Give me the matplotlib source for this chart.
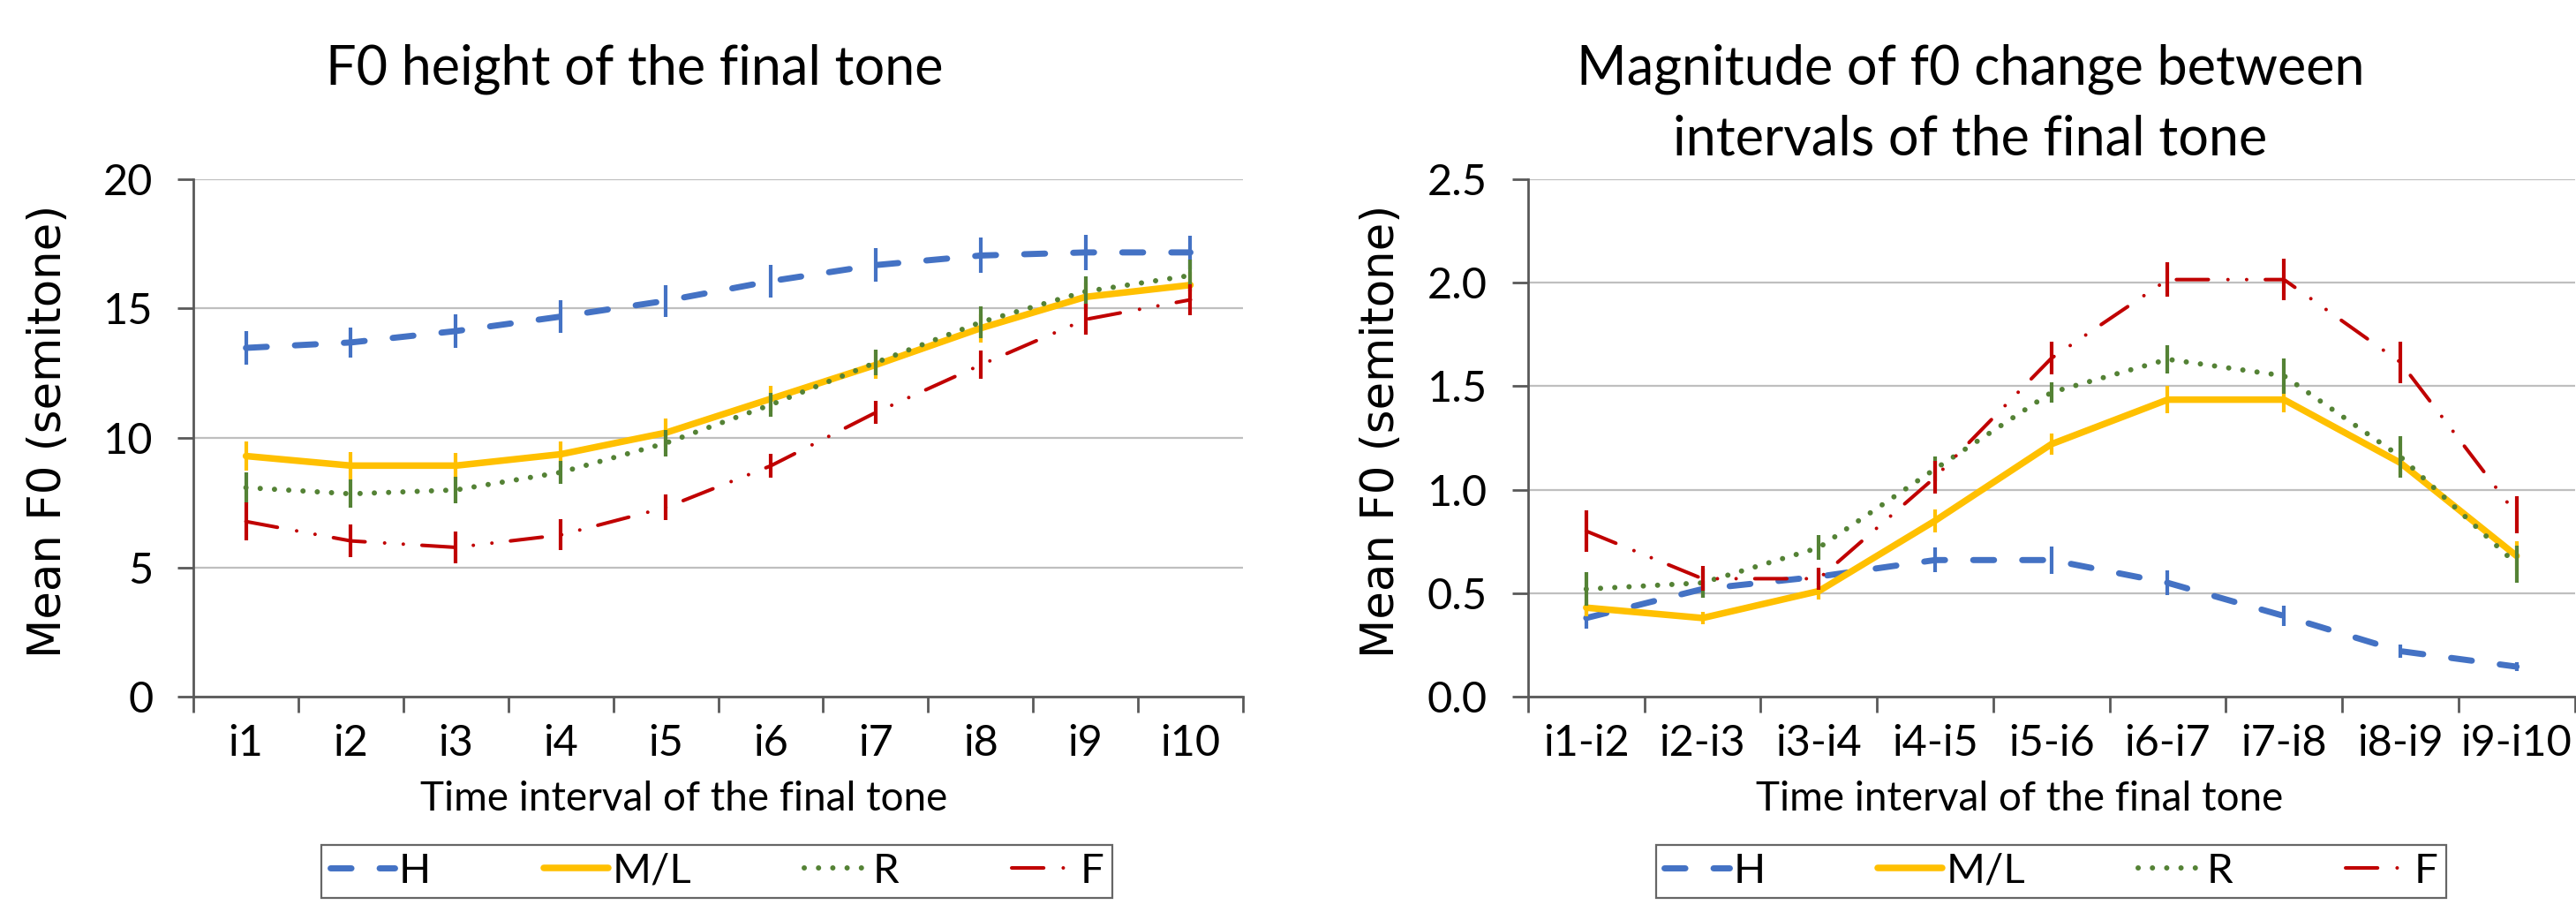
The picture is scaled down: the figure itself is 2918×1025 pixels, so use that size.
import matplotlib.pyplot as plt
import numpy as np
from matplotlib.lines import Line2D

plt.rcParams['font.family'] = ['Lato', 'DejaVu Sans']

# data
labels_left = ['i1', 'i2', 'i3', 'i4', 'i5', 'i6', 'i7', 'i8', 'i9', 'i10']
labels_right = ['i1-i2', 'i2-i3', 'i3-i4', 'i4-i5', 'i5-i6', 'i6-i7', 'i7-i8', 'i8-i9', 'i9-i10']
series_names = ['H', 'M/L', 'R', 'F']

h_left = [13.48, 13.69, 14.13, 14.69, 15.30, 16.06, 16.68, 17.05, 17.17, 17.17]
ml_left = [9.30, 8.93, 8.93, 9.37, 10.20, 11.51, 12.82, 14.24, 15.45, 15.91]
r_left = [8.08, 7.84, 7.99, 8.67, 9.80, 11.28, 12.91, 14.47, 15.66, 16.28]
f_left = [6.77, 6.02, 5.77, 6.25, 7.31, 8.92, 10.98, 12.82, 14.58, 15.34]

h_left_err = [0.64, 0.59, 0.65, 0.63, 0.62, 0.64, 0.64, 0.68, 0.69, 0.65]
ml_left_err = [0.55, 0.54, 0.50, 0.50, 0.55, 0.50, 0.55, 0.55, 0.55, 0.50]
r_left_err = [0.60, 0.55, 0.50, 0.45, 0.50, 0.47, 0.50, 0.60, 0.60, 0.60]
f_left_err = [0.73, 0.63, 0.60, 0.60, 0.50, 0.45, 0.45, 0.55, 0.60, 0.60]

h_right = [0.38, 0.52, 0.58, 0.66, 0.66, 0.55, 0.39, 0.22, 0.145]
ml_right = [0.43, 0.38, 0.51, 0.85, 1.22, 1.435, 1.435, 1.13, 0.68]
r_right = [0.52, 0.55, 0.72, 1.10, 1.47, 1.63, 1.55, 1.16, 0.64]
f_right = [0.80, 0.57, 0.57, 1.06, 1.635, 2.015, 2.015, 1.616, 0.88]

h_right_err = [0.05, 0.04, 0.04, 0.06, 0.065, 0.06, 0.05, 0.03, 0.02]
ml_right_err = [0.04, 0.03, 0.04, 0.055, 0.05, 0.065, 0.06, 0.06, 0.07]
r_right_err = [0.08, 0.07, 0.06, 0.06, 0.05, 0.07, 0.085, 0.10, 0.09]
f_right_err = [0.10, 0.06, 0.055, 0.08, 0.08, 0.083, 0.10, 0.10, 0.09]

colors = ['#4472C4', '#FFC000', '#548235', '#C00000']
widths = [5.0, 5.4, 4.3, 2.9]
styles = [(0, (3.4, 4.6)), 'solid', (0, (0.01, 2.7)), (0, (9, 5.5, 0.01, 5.25, 0.01, 5.25))]

fig = plt.figure(figsize=(29.18, 10.25), dpi=100)
ax1 = fig.add_axes([0.0751, 0.2302, 0.4074, 0.5718])
ax2 = fig.add_axes([0.5932, 0.2302, 0.4063, 0.5718])


def draw(ax, labels, values, errs, ymax, step, fmt):
    x = np.arange(len(labels))
    for k in range(4):
        ax.plot(x, values[k], color=colors[k], lw=widths[k], linestyle=styles[k],
                dash_capstyle='round', solid_capstyle='round', zorder=3 + 2 * k)
        ax.errorbar(x, values[k], yerr=errs[k], fmt='none', ecolor=colors[k],
                    elinewidth=3.0, capsize=0, zorder=4 + 2 * k)
    ax.set_xlim(-0.5, len(labels) - 0.5)
    ax.set_ylim(0, ymax)
    ticks = np.arange(0, ymax + step / 2, step)
    ax.set_yticks(ticks)
    ax.set_yticklabels([fmt % t for t in ticks])
    ax.set_xticks(np.arange(-0.5, len(labels)))
    ax.set_xticklabels([])
    ax.set_xticks(x, minor=True)
    ax.set_xticklabels(labels, minor=True)
    ax.tick_params(axis='x', which='major', length=13, width=2, color='#595959', direction='out')
    ax.tick_params(axis='x', which='minor', length=0, pad=22, labelsize=35)
    ax.tick_params(axis='y', length=13, width=2, color='#595959', direction='out', pad=20, labelsize=35)
    ax.grid(axis='y', color='#BFBFBF', lw=1.6, zorder=0)
    ax.set_axisbelow(True)
    for s in ['top', 'right']:
        ax.spines[s].set_visible(False)
    for s in ['left', 'bottom']:
        ax.spines[s].set_color('#595959')
        ax.spines[s].set_linewidth(2)
        ax.spines[s].set_zorder(20)


draw(ax1, labels_left, [h_left, ml_left, r_left, f_left],
     [h_left_err, ml_left_err, r_left_err, f_left_err], 20, 5, '%d')
draw(ax2, labels_right, [h_right, ml_right, r_right, f_right],
     [h_right_err, ml_right_err, r_right_err, f_right_err], 2.5, 0.5, '%.1f')

# titles and axis labels
fig.text(0.2464, 0.907, 'F0 height of the final tone', fontsize=44, ha='center', va='baseline')
fig.text(0.7649, 0.907, 'Magnitude of f0 change between', fontsize=44, ha='center', va='baseline')
fig.text(0.7649, 0.829, 'intervals of the final tone', fontsize=44, ha='center', va='baseline')

for xl in [0.2656, 0.7838]:
    fig.text(xl, 0.1044, 'Time interval of the final tone', fontsize=33, ha='center', va='baseline')
for yl in [0.0188, 0.5363]:
    fig.text(yl, 0.524, 'Mean F0 (semitone)', fontsize=37, rotation=90, ha='center', va='center',
             family='DejaVu Sans')

handles = [Line2D([], [], color=colors[k], lw=widths[k], linestyle=styles[k],
                  dash_capstyle='round', solid_capstyle='round') for k in range(4)]
for lx in [0.2783, 0.7963]:
    leg = fig.legend(handles, series_names, loc='center', bbox_to_anchor=(lx, 0.0371),
                     ncol=4, fontsize=34, handlelength=1.55, handletextpad=0.1,
                     columnspacing=2.7, frameon=True, fancybox=False, borderpad=0.2)
    leg.get_frame().set_edgecolor('#404040')
    leg.get_frame().set_linewidth(1.6)

fig.savefig('out.png', dpi=100)
